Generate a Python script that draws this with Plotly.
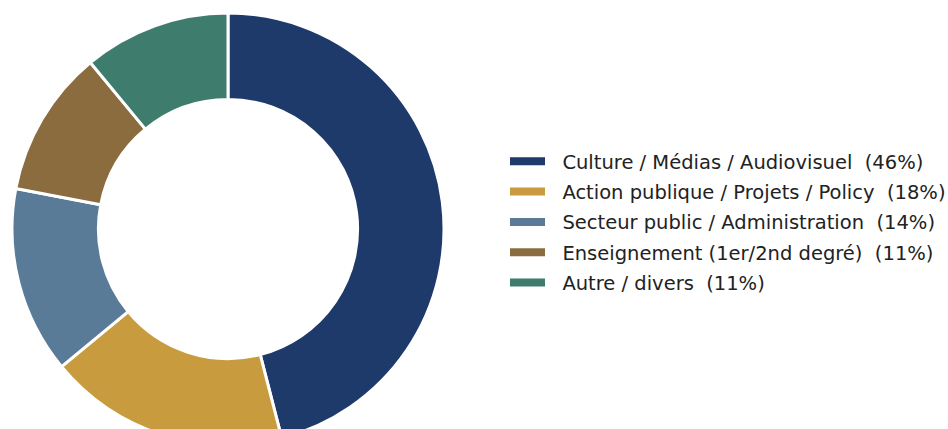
import plotly.graph_objects as go

categories = [
    "Culture / Médias / Audiovisuel",
    "Action publique / Projets / Policy",
    "Secteur public / Administration",
    "Enseignement (1er/2nd degré)",
    "Autre / divers",
]
values = [46, 18, 14, 11, 11]
colors = ["#1d3a6b", "#c89c3e", "#5a7b98", "#8b6c3e", "#3e7c6d"]

W, H = 970, 458
cx, cy, r = 228, 229, 216
fig = go.Figure()
fig.add_trace(go.Pie(
    labels=categories,
    values=values,
    hole=0.6,
    sort=False,
    direction="clockwise",
    marker=dict(colors=colors, line=dict(color="white", width=3)),
    textinfo="none",
    hoverinfo="label+percent",
    showlegend=False,
    domain=dict(x=[(cx - r) / W, (cx + r) / W],
                y=[(H - cy - r) / H, (H - cy + r) / H]),
))

total = sum(values)
for cat, val, col in zip(categories, values, colors):
    fig.add_trace(go.Scatter(
        x=[None], y=[None], mode="lines",
        line=dict(color=col, width=8),
        name="\u00a0\u00a0" + f"{cat}  ({round(100 * val / total)}%)",
        legendgroup=cat,
        showlegend=True,
    ))

fig.update_layout(
    width=W, height=H,
    margin=dict(l=0, r=0, t=0, b=0),
    paper_bgcolor="white", plot_bgcolor="white",
    xaxis=dict(visible=False), yaxis=dict(visible=False),
    font=dict(family="DejaVu Sans", size=19.5, color="#222222"),
    legend=dict(
        x=505 / W, xanchor="left", y=1 - 222 / H, yanchor="middle",
        tracegroupgap=2, itemwidth=35,
        bgcolor="rgba(0,0,0,0)",
    ),
)
fig.write_html(
    "out.html",
    config={"displayModeBar": False},
    post_script=(
        "document.documentElement.style.overflow='hidden';"
        "document.body.style.overflow='hidden';"
        "document.body.style.margin='0';"
    ),
)
